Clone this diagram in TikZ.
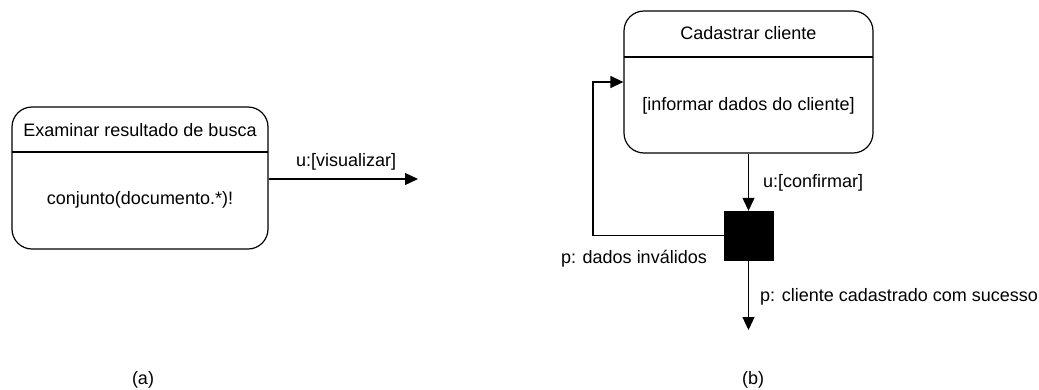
\documentclass[tikz,border=0pt]{standalone}
\usepackage{fontspec}
\setmainfont{Liberation Sans}
\usetikzlibrary{arrows.meta}
\begin{document}
\begin{tikzpicture}[x=1pt,y=-1pt,
  statebox/.style={draw, line width=1.2pt, rounded corners=20pt, inner sep=0pt},
  lbl/.style={font=\fontsize{18}{21}\selectfont, inner sep=0pt},
  flow/.style={line width=1.2pt, -{Triangle[length=13pt,width=12pt]}},
  plain/.style={line width=1.2pt},
  junction/.style={fill=black, draw=black, minimum size=49pt, inner sep=0pt}
]
\useasboundingbox (0,0) rectangle (1039,389);

% (a) state with outgoing transition
\node[statebox, minimum width=256pt, minimum height=142pt] (A) at (140,178) {};
\draw[plain] (12,152) coordinate (Adl) -- (268,152) coordinate (Adr);
\node[lbl] (Atitle) at (140,130) {Examinar resultado de busca};
\node[lbl] (Abody) at (140,200) {conjunto(documento.*)!};
\coordinate (Aout) at (A.east |- 0,179);
\coordinate (Aend) at (418,179);
\draw[flow] (Aout) -- (Aend);
\node[lbl, anchor=west] (Alab) at (296,162) {u:[visualizar]};

% (b) state, decision junction and its outcomes
\node[statebox, minimum width=249pt, minimum height=142pt] (B) at (748.5,82) {};
\draw[plain] (624,57) coordinate (Bdl) -- (873,57) coordinate (Bdr);
\node[lbl] (Btitle) at (748.5,33) {Cadastrar cliente};
\node[lbl] (Bbody) at (748.5,106) {[informar dados do cliente]};
\node[junction] (J) at (748.5,235.5) {};
\draw[flow] (B.south) -- (J.north);
\node[lbl, anchor=west] (Blab1) at (763,183) {u:[confirmar]};
\coordinate (Bloop) at (593,235.5);
\coordinate (Bin) at (B.west |- 0,82);
\draw[flow] (J.west) -- (Bloop) |- (Bin);
\node[lbl, anchor=east] (Blab2) at (707,259) {p: dados inválidos};
\coordinate (Bend) at (748.5,330);
\draw[flow] (J.south) -- (Bend);
\node[lbl, anchor=west] (Blab3) at (760,297) {p: cliente cadastrado com sucesso};

% captions
\node[lbl] (capa) at (143,380) {(a)};
\node[lbl] (capb) at (753,380) {(b)};
\end{tikzpicture}
\end{document}
